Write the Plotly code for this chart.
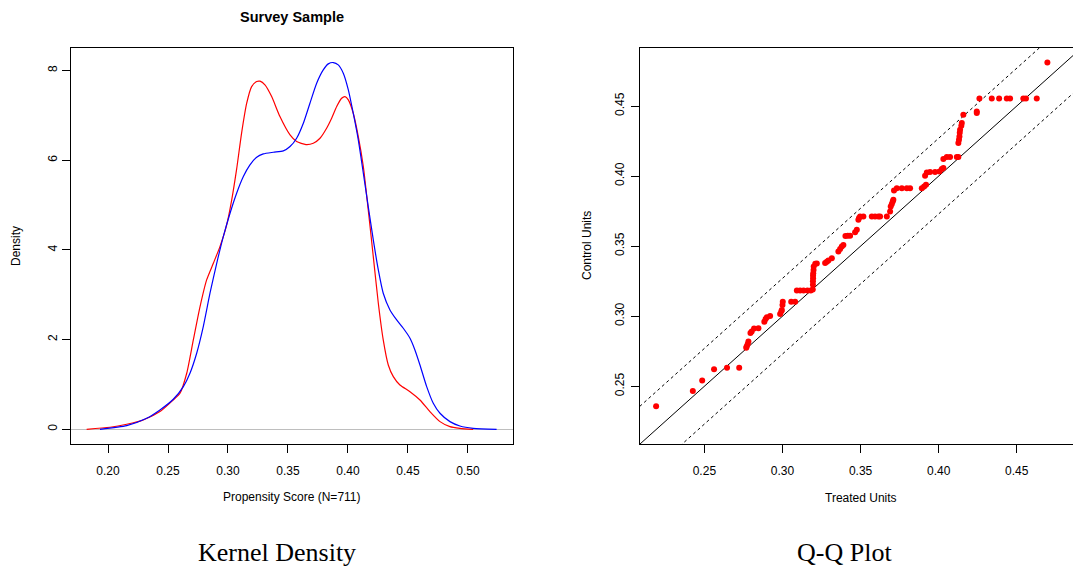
import plotly.graph_objects as go

# ---------------- data ----------------
# Kernel density (red)
red_x = [0.1822, 0.2017, 0.2156, 0.2294, 0.2433, 0.2544, 0.2600, 0.2656, 0.2711, 0.2767,
         0.2822, 0.2878, 0.2933, 0.2989, 0.3031, 0.3072, 0.3114, 0.3156, 0.3197, 0.3239,
         0.3267, 0.3308, 0.3364, 0.3433, 0.3517, 0.3572, 0.3650, 0.3711, 0.3767, 0.3822,
         0.3864, 0.3906, 0.3947, 0.3975, 0.4003, 0.4044, 0.4086, 0.4128, 0.4169, 0.4211,
         0.4253, 0.4294, 0.4336, 0.4378, 0.4433, 0.4517, 0.4600, 0.4683, 0.4767, 0.4850,
         0.4933, 0.5044]
red_y = [0.000, 0.045, 0.112, 0.208, 0.394, 0.654, 0.803, 1.249, 1.992, 2.735,
         3.330, 3.701, 4.073, 4.556, 5.113, 5.798, 6.615, 7.269, 7.640, 7.752,
         7.760, 7.678, 7.417, 6.971, 6.562, 6.414, 6.347, 6.377, 6.488, 6.711,
         6.934, 7.195, 7.380, 7.417, 7.343, 7.046, 6.526, 5.857, 4.891, 3.850,
         2.810, 1.992, 1.434, 1.174, 0.988, 0.839, 0.654, 0.394, 0.171, 0.059,
         0.022, 0.000]

# Kernel density (blue)
blue_x = [0.1933, 0.2156, 0.2322, 0.2433, 0.2544, 0.2628, 0.2683, 0.2739, 0.2794, 0.2850,
          0.2906, 0.2961, 0.3017, 0.3072, 0.3128, 0.3183, 0.3239, 0.3294, 0.3378, 0.3461,
          0.3517, 0.3572, 0.3628, 0.3683, 0.3739, 0.3794, 0.3836, 0.3878, 0.3919, 0.3961,
          0.4003, 0.4044, 0.4086, 0.4128, 0.4169, 0.4211, 0.4253, 0.4294, 0.4350, 0.4406,
          0.4461, 0.4517, 0.4558, 0.4600, 0.4656, 0.4711, 0.4767, 0.4850, 0.4933, 0.5044,
          0.5239]
blue_y = [0.000, 0.082, 0.245, 0.431, 0.669, 0.951, 1.249, 1.695, 2.289, 3.033,
          3.701, 4.296, 4.816, 5.262, 5.634, 5.894, 6.065, 6.139, 6.176, 6.206,
          6.303, 6.489, 6.823, 7.269, 7.715, 8.012, 8.146, 8.176, 8.124, 7.938,
          7.566, 7.046, 6.452, 5.709, 4.965, 4.222, 3.553, 3.033, 2.661, 2.438,
          2.252, 2.029, 1.769, 1.434, 0.951, 0.580, 0.357, 0.171, 0.074, 0.022,
          0.000]

# Q-Q plot quantiles
treated_q = [0.2191, 0.2426, 0.2486, 0.2562, 0.2645, 0.2723,
             0.2768, 0.2771, 0.2777, 0.2782,
             0.2795, 0.2803, 0.2818, 0.2846,
             0.2884, 0.2892, 0.2900, 0.2921,
             0.2985, 0.2993, 0.2996, 0.3000, 0.3002,
             0.3056, 0.3081,
             0.3092, 0.3113, 0.3135, 0.3160, 0.3181, 0.3194,
             0.3195, 0.3195, 0.3196, 0.3196, 0.3197, 0.3199, 0.3200, 0.3210, 0.3220,
             0.3273, 0.3284, 0.3294, 0.3316,
             0.3358, 0.3369, 0.3380, 0.3390,
             0.3403, 0.3418, 0.3433,
             0.3465, 0.3476, 0.3486, 0.3490, 0.3497, 0.3518,
             0.3572, 0.3593, 0.3614, 0.3625, 0.3668,
             0.3689, 0.3693, 0.3700, 0.3706, 0.3710,
             0.3714, 0.3732, 0.3764, 0.3796, 0.3817,
             0.3892, 0.3907, 0.3919,
             0.3913, 0.3924, 0.3945, 0.3977,
             0.4005, 0.4020, 0.4030,
             0.4030, 0.4052, 0.4073, 0.4116, 0.4126,
             0.4126, 0.4130, 0.4133, 0.4135, 0.4137, 0.4145, 0.4148,
             0.4158, 0.4244, 0.4244,
             0.4261, 0.4340, 0.4387, 0.4436, 0.4457,
             0.4542, 0.4559, 0.4628,
             0.4696]
control_q = [0.2358, 0.2466, 0.2542, 0.2622, 0.2632, 0.2633,
             0.2775, 0.2783, 0.2800, 0.2819,
             0.2880, 0.2890, 0.2912, 0.2914,
             0.2961, 0.2980, 0.2993, 0.3002,
             0.3016, 0.3035, 0.3045, 0.3080, 0.3104,
             0.3104, 0.3104,
             0.3183, 0.3183, 0.3183, 0.3183, 0.3183, 0.3190,
             0.3224, 0.3250, 0.3271, 0.3290, 0.3307, 0.3330, 0.3354, 0.3374, 0.3376,
             0.3379, 0.3388, 0.3397, 0.3414,
             0.3461, 0.3480, 0.3497, 0.3509,
             0.3572, 0.3574, 0.3574,
             0.3600, 0.3617, 0.3688, 0.3700, 0.3711, 0.3711,
             0.3711, 0.3711, 0.3711, 0.3711, 0.3711,
             0.3747, 0.3783, 0.3800, 0.3819, 0.3831,
             0.3897, 0.3914, 0.3914, 0.3914, 0.3914,
             0.3914, 0.3926, 0.3938,
             0.4002, 0.4026, 0.4029, 0.4029,
             0.4033, 0.4050, 0.4057,
             0.4121, 0.4136, 0.4136, 0.4136, 0.4136,
             0.4236, 0.4260, 0.4283, 0.4310, 0.4331, 0.4360, 0.4379,
             0.4438, 0.4450, 0.4461,
             0.4554, 0.4554, 0.4554, 0.4554, 0.4554,
             0.4554, 0.4554, 0.4554,
             0.4811]

density_ticks = [0, 2, 4, 6, 8]
score_ticks = [0.20, 0.25, 0.30, 0.35, 0.40, 0.45, 0.50]
qq_ticks = [0.25, 0.30, 0.35, 0.40, 0.45]
band = 0.027  # dashed band offset around y = x

# ---------------- figure ----------------
W, H = 1073, 569
FONT = "Liberation Sans, Arial, Helvetica, sans-serif"

def px(x):
    return x / W

def py(y):
    return 1 - y / H

fig = go.Figure()

fig.add_trace(go.Scatter(x=red_x, y=red_y, mode="lines",
                         line=dict(color="#FF0000", width=1.2, shape="spline", smoothing=0.6),
                         xaxis="x", yaxis="y", showlegend=False, hoverinfo="skip"))
fig.add_trace(go.Scatter(x=blue_x, y=blue_y, mode="lines",
                         line=dict(color="#0000FF", width=1.2, shape="spline", smoothing=0.6),
                         xaxis="x", yaxis="y", showlegend=False, hoverinfo="skip"))

qx_range = [0.2086, 0.486]
qy_range = [0.2088, 0.4914]
lo, hi = 0.18, 0.52
fig.add_trace(go.Scatter(x=[lo, hi], y=[lo, hi], mode="lines",
                         line=dict(color="black", width=1),
                         xaxis="x2", yaxis="y2", showlegend=False, hoverinfo="skip"))
for off in (band, -band):
    fig.add_trace(go.Scatter(x=[lo, hi], y=[lo + off, hi + off], mode="lines",
                             line=dict(color="black", width=1, dash="3px,3px"),
                             xaxis="x2", yaxis="y2", showlegend=False, hoverinfo="skip"))
fig.add_trace(go.Scatter(x=treated_q, y=control_q, mode="markers",
                         marker=dict(color="#FF0000", size=6, line=dict(width=0)),
                         xaxis="x2", yaxis="y2", showlegend=False, hoverinfo="skip"))

axis_common = dict(showgrid=False, showline=True, linecolor="black", linewidth=1,
                   mirror=True, ticks="outside", ticklen=8, tickwidth=1, tickcolor="black",
                   tickfont=dict(family=FONT, size=12, color="black"), zeroline=False)

ydom = [py(444), py(48)]
fig.update_layout(
    width=W, height=H,
    margin=dict(l=0, r=0, t=0, b=0),
    paper_bgcolor="white", plot_bgcolor="white",
    xaxis=dict(domain=[px(70.7), px(512.7)], range=[0.1689, 0.5373], anchor="y",
               tickvals=score_ticks, tickformat=".2f", ticklabelstandoff=8, **axis_common),
    yaxis=dict(domain=ydom, range=[-0.328, 8.50], anchor="x",
               tickvals=density_ticks, tickangle=-90, ticklabelstandoff=0,
               **{**axis_common, "zeroline": True},
               zerolinecolor="#BEBEBE", zerolinewidth=1),
    xaxis2=dict(domain=[px(639.7), 1.0], range=qx_range, anchor="y2",
                tickvals=qq_ticks, tickformat=".2f", ticklabelstandoff=8, **axis_common),
    yaxis2=dict(domain=ydom, range=qy_range, anchor="x2",
                tickvals=qq_ticks, tickformat=".2f", tickangle=-90, ticklabelstandoff=2,
                **axis_common),
)

ann = [
    dict(text="<b>Survey Sample</b>", x=px(291.5), y=py(17), font=dict(family=FONT, size=14.5)),
    dict(text="Density", x=px(16), y=py(246), textangle=-90, font=dict(family=FONT, size=12)),
    dict(text="Propensity Score (N=711)", x=px(291.7), y=py(497), font=dict(family=FONT, size=12)),
    dict(text="Control Units", x=px(587), y=py(246), textangle=-90, font=dict(family=FONT, size=12)),
    dict(text="Treated Units", x=px(861), y=py(498), font=dict(family=FONT, size=12)),
    dict(text="Kernel Density", x=px(277), y=py(552),
         font=dict(family="Liberation Serif, Times New Roman, serif", size=26)),
    dict(text="Q-Q Plot", x=px(844), y=py(552),
         font=dict(family="Liberation Serif, Times New Roman, serif", size=26)),
]
for a in ann:
    fig.add_annotation(xref="paper", yref="paper", showarrow=False,
                       xanchor="center", yanchor="middle",
                       font_color="black", **{k: v for k, v in a.items()})

fig.write_html("out.html", config={"displayModeBar": False, "staticPlot": True},
               post_script="document.body.style.margin='0px';document.body.style.overflow='hidden';")
